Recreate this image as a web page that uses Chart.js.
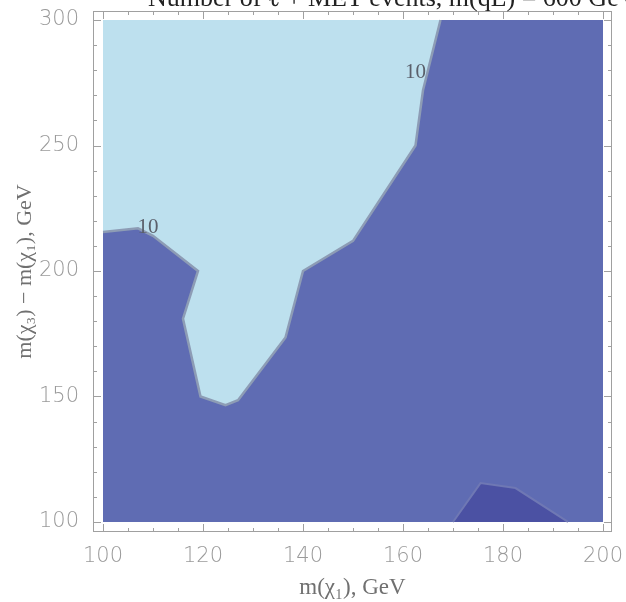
<!DOCTYPE html>
<html>
<head>
<meta charset="utf-8">
<script src="https://cdn.jsdelivr.net/npm/chart.js@4.4.1/dist/chart.umd.min.js"></script>
<style>
html, body { margin: 0; padding: 0; background: #fff; }
canvas { display: block; }
</style>
</head>
<body>
<canvas id="contourChart" width="626" height="602"></canvas>
<script>
// contour line of 10 events (m(chi1), m(chi3)-m(chi1))
var contourX = [100, 107, 110, 119, 116, 119.5, 124.5, 127, 136.5, 140, 150, 162.5, 164, 167.5];
var contourY = [215.5, 217, 214, 200, 181, 150, 146.5, 148.5, 173.5, 200, 212, 250, 272, 300];
// small island with fewer events in the lower right
var islandX = [170, 175.5, 182.5, 193];
var islandY = [100, 115.5, 113.5, 100];
// region scanned
var rangeX = [100, 200];
var rangeY = [100, 300];
// tick labels
var xTicks = [100, 120, 140, 160, 180, 200];
var yTicks = [100, 150, 200, 250, 300];
// contour level labels
var levelText = ['10', '10'];
var levelX = [162.5, 109];
var levelY = [279, 217.5];

var titleText = 'Number of \u2113 + MET events, m(q\u0303L) = 600 GeV';

function points(xs, ys) {
    var out = [];
    for (var i = 0; i < xs.length; i++) {
        out.push({x: xs[i], y: ys[i]});
    }
    return out;
}

// light region = contour line closed through the top left corner
var lightPts = points(contourX, contourY);
lightPts.push({x: rangeX[0], y: rangeY[1]});

var fullPts = points(
    [rangeX[0], rangeX[1], rangeX[1], rangeX[0]],
    [rangeY[0], rangeY[0], rangeY[1], rangeY[1]]
);

/**
 * frame, inward ticks, contour labels and the clipped title
 */
var framePlugin = {
    id: 'frame',
    afterDraw: function(chart) {
        var ctx = chart.ctx;
        var a = chart.chartArea;
        var xs = chart.scales.x;
        var ys = chart.scales.y;
        ctx.save();
        ctx.strokeStyle = '#a0a0a0';
        ctx.lineWidth = 1;
        ctx.strokeRect(a.left + 0.5, a.top + 0.5, a.right - a.left - 1, a.bottom - a.top - 1);

        ctx.beginPath();
        for (var v = rangeX[0]; v <= rangeX[1]; v += 5) {
            var px = Math.round(xs.getPixelForValue(v)) + 0.5;
            var len = (v - rangeX[0]) % 20 === 0 ? 8 : 4;
            ctx.moveTo(px, a.bottom);
            ctx.lineTo(px, a.bottom - len);
            ctx.moveTo(px, a.top);
            ctx.lineTo(px, a.top + len);
        }
        for (var w = rangeY[0]; w <= rangeY[1]; w += 10) {
            var py = Math.round(ys.getPixelForValue(w)) + 0.5;
            var l2 = (w - rangeY[0]) % 50 === 0 ? 8 : 4;
            ctx.moveTo(a.left, py);
            ctx.lineTo(a.left + l2, py);
            ctx.moveTo(a.right, py);
            ctx.lineTo(a.right - l2, py);
        }
        ctx.stroke();

        ctx.fillStyle = '#5a5f6a';
        ctx.font = '21px "Liberation Serif", serif';
        ctx.textAlign = 'center';
        ctx.textBaseline = 'middle';
        for (var i = 0; i < levelText.length; i++) {
            ctx.fillText(levelText[i], xs.getPixelForValue(levelX[i]), ys.getPixelForValue(levelY[i]));
        }

        ctx.fillStyle = '#222';
        ctx.font = '26px "Liberation Serif", serif';
        ctx.textAlign = 'left';
        ctx.textBaseline = 'alphabetic';
        ctx.fillText(titleText, 148, 6);
        ctx.restore();
    }
};

new Chart(document.getElementById('contourChart'), {
    type: 'line',
    data: {
        datasets: [
            {
                label: 'contour',
                data: points(contourX, contourY),
                borderColor: '#8d9cb5',
                borderWidth: 2.5,
                pointRadius: 0,
                fill: false,
                order: 1
            },
            {
                label: 'island',
                data: points(islandX, islandY),
                borderColor: '#6f78b4',
                backgroundColor: '#4b51a3',
                borderWidth: 2,
                pointRadius: 0,
                fill: 'shape',
                order: 2
            },
            {
                label: 'above 10',
                data: lightPts,
                borderWidth: 0,
                backgroundColor: '#bde0ee',
                pointRadius: 0,
                fill: 'shape',
                order: 3
            },
            {
                label: 'below 10',
                data: fullPts,
                borderWidth: 0,
                backgroundColor: '#5f6cb3',
                pointRadius: 0,
                fill: 'shape',
                order: 4
            }
        ]
    },
    options: {
        responsive: false,
        animation: false,
        layout: {padding: {top: 11, right: 14, left: 0, bottom: 0}},
        plugins: {
            legend: {display: false},
            tooltip: {enabled: false},
            title: {display: false}
        },
        elements: {line: {tension: 0}},
        scales: {
            x: {
                type: 'linear',
                min: 98,
                max: 201.8,
                afterBuildTicks: function(scale) {
                    scale.ticks = xTicks.map(function(v) { return {value: v}; });
                },
                afterFit: function(scale) {
                    scale.height = 70;
                    scale.paddingLeft = 0;
                    scale.paddingRight = 0;
                },
                grid: {display: false},
                border: {display: false},
                ticks: {
                    color: '#9a9a9a',
                    padding: 4,
                    maxRotation: 0,
                    font: {family: '"DejaVu Sans", sans-serif', size: 21, weight: '200'}
                },
                title: {
                    display: true,
                    text: 'm(\u03c7\u2081), GeV',
                    color: '#707070',
                    padding: {top: 2, bottom: 0},
                    font: {family: '"Liberation Serif", serif', size: 23}
                }
            },
            y: {
                type: 'linear',
                min: 96,
                max: 303.6,
                afterBuildTicks: function(scale) {
                    scale.ticks = yTicks.map(function(v) { return {value: v}; });
                },
                afterFit: function(scale) {
                    scale.width = 93;
                    scale.paddingTop = 0;
                    scale.paddingBottom = 0;
                },
                grid: {display: false},
                border: {display: false},
                ticks: {
                    color: '#9a9a9a',
                    padding: 6,
                    font: {family: '"DejaVu Sans", sans-serif', size: 21, weight: '200'}
                },
                title: {
                    display: true,
                    text: 'm(\u03c7\u2083) \u2212 m(\u03c7\u2081), GeV',
                    color: '#707070',
                    padding: {top: 12, bottom: 0},
                    font: {family: '"Liberation Serif", serif', size: 22}
                }
            }
        }
    },
    plugins: [framePlugin]
});
</script>
</body>
</html>
